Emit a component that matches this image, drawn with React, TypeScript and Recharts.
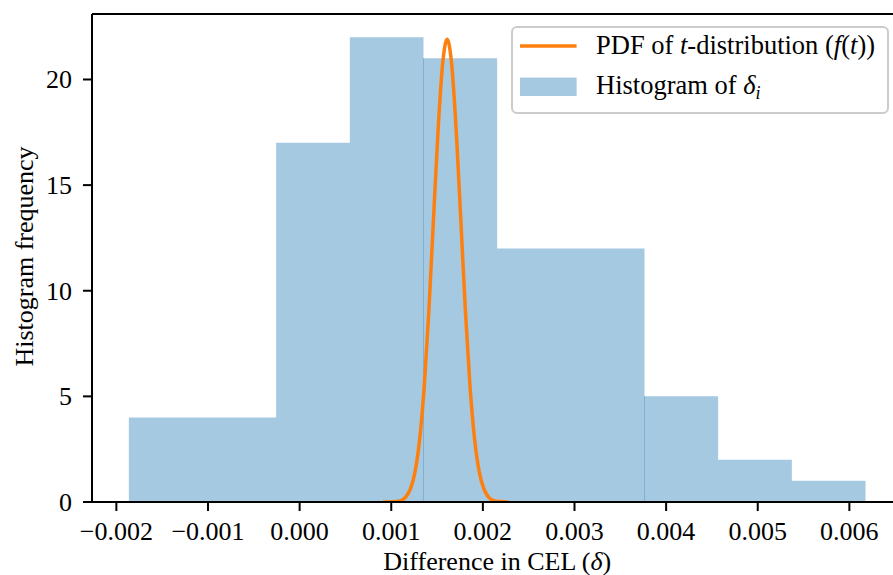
import React from 'react';
import { ComposedChart, Area, Line, XAxis, YAxis, ReferenceLine } from 'recharts';

// histogram of delta_i: bin edges (11) and counts (10)
const binEdges = [
  -0.001864, -0.00106, -0.000256, 0.000548, 0.001352, 0.002156,
  0.00296, 0.003764, 0.004568, 0.005372, 0.006176,
];
const binCounts = [4, 4, 17, 22, 21, 12, 12, 5, 2, 1];

// fitted t-distribution pdf
const pdfX = [
  0.00091, 0.00101, 0.00111, 0.00116, 0.00121, 0.00126, 0.00131, 0.00136,
  0.00141, 0.00146, 0.00151, 0.00156, 0.00161, 0.00166, 0.00171, 0.00176,
  0.00181, 0.00186, 0.00191, 0.00196, 0.00201, 0.00206, 0.00211, 0.00218, 0.00228,
];
const pdfY = [
  0, 0.01, 0.08, 0.24, 0.63, 1.44, 2.96, 5.46, 9.0, 13.3, 17.5, 20.7, 21.9,
  20.7, 17.5, 13.3, 9.0, 5.46, 2.96, 1.44, 0.63, 0.24, 0.08, 0.02, 0,
];

// bin boundaries where the translucent bars overlap and leave a darker seam
const seamBins = [4, 7];

const xTicks = [-0.002, -0.001, 0, 0.001, 0.002, 0.003, 0.004, 0.005, 0.006];
const yTicks = [0, 5, 10, 15, 20];
const yMax = 23.1;

const FONT = '"Liberation Serif", "Times New Roman", serif';
const FS = 26;
const BAR_COLOR = '#a5c9e1';
const LINE_COLOR = '#ff7f0e';

const histData = binEdges.map((x, i) => ({
  x,
  y: i < binCounts.length ? binCounts[i] : binCounts[binCounts.length - 1],
}));
const pdfData = pdfX.map((x, i) => ({ x, y: pdfY[i] }));

const fmtX = (v: number) => (v < 0 ? '\u2212' : '') + Math.abs(v).toFixed(3);

const XTick = (props: any) => {
  const { x, y, payload } = props;
  return (
    <text x={x} y={y + 29} textAnchor="middle" fill="#000" fontSize={FS} fontFamily={FONT}>
      {fmtX(payload.value)}
    </text>
  );
};

const YTick = (props: any) => {
  const { x, y, payload } = props;
  return (
    <text x={x} y={y + 9} textAnchor="end" fill="#000" fontSize={FS} fontFamily={FONT}>
      {payload.value}
    </text>
  );
};

const XLabel = (props: any) => {
  const { x, y, width } = props.viewBox;
  return (
    <text x={x + width / 2} y={y + 68} textAnchor="middle" fill="#000" fontSize={FS} fontFamily={FONT}>
      Difference in CEL (<tspan fontStyle="italic">δ</tspan>)
    </text>
  );
};

const YLabel = (props: any) => {
  const { y, height } = props.viewBox;
  const cx = 33;
  const cy = y + height / 2 - 1.5;
  return (
    <text
      x={cx}
      y={cy}
      transform={`rotate(-90, ${cx}, ${cy})`}
      textAnchor="middle"
      fill="#000"
      fontSize={FS}
      fontFamily={FONT}
    >
      Histogram frequency
    </text>
  );
};

const LegendBox = () => (
  <svg width={378} height={88} style={{ display: 'block' }}>
    <rect x={1} y={1} width={376} height={86} rx={5} fill="#fff" fillOpacity={0.8} stroke="#cccccc" strokeWidth={2} />
    <line x1={9} x2={65.6} y1={20} y2={20} stroke={LINE_COLOR} strokeWidth={3.5} />
    <text x={85} y={28.3} fill="#000" fontSize={26.5} fontFamily={FONT}>
      PDF of <tspan fontStyle="italic">t</tspan>-distribution (<tspan fontStyle="italic">f</tspan>(<tspan fontStyle="italic">t</tspan>))
    </text>
    <rect x={9} y={51.6} width={56.6} height={18.4} fill={BAR_COLOR} />
    <text x={85} y={68.3} fill="#000" fontSize={26.5} fontFamily={FONT}>
      Histogram of <tspan fontStyle="italic">δ</tspan>
      <tspan fontStyle="italic" fontSize={18} dy={5}>i</tspan>
    </text>
  </svg>
);

export default function App() {
  const xDomain = [-0.002266, 0.006581];
  return (
    <div
      style={{
        position: 'absolute',
        left: 0,
        top: 0,
        width: 893,
        height: 575,
        overflow: 'hidden',
        background: '#fff',
        fontFamily: FONT,
      }}
    >
      <ComposedChart width={910} height={575} margin={{ top: 14, right: 7.4, bottom: 0, left: 0 }}>
        <XAxis
          dataKey="x"
          type="number"
          domain={xDomain}
          ticks={xTicks}
          allowDataOverflow
          height={73}
          tickSize={9}
          tickMargin={0}
          tick={<XTick />}
          tickLine={{ stroke: '#000', strokeWidth: 2 }}
          axisLine={{ stroke: '#000', strokeWidth: 2 }}
          label={<XLabel />}
        />
        <YAxis
          type="number"
          domain={[0, yMax]}
          ticks={yTicks}
          allowDataOverflow
          width={92}
          tickSize={9}
          tickMargin={11}
          tick={<YTick />}
          tickLine={{ stroke: '#000', strokeWidth: 2 }}
          axisLine={{ stroke: '#000', strokeWidth: 2 }}
          label={<YLabel />}
        />
        <Area
          data={histData}
          dataKey="y"
          type="stepAfter"
          stroke="none"
          fill={BAR_COLOR}
          fillOpacity={1}
          isAnimationActive={false}
        />
        {seamBins.map((i) => (
          <ReferenceLine
            key={i}
            segment={[
              { x: binEdges[i], y: 0 },
              { x: binEdges[i], y: Math.min(binCounts[i - 1], binCounts[i]) },
            ]}
            stroke="#80b0d4"
            strokeWidth={1}
          />
        ))}
        <ReferenceLine y={yMax} stroke="#000" strokeWidth={2} />
        <Line
          data={pdfData}
          dataKey="y"
          type="monotone"
          stroke={LINE_COLOR}
          strokeWidth={3.5}
          dot={false}
          isAnimationActive={false}
        />
      </ComposedChart>
      <div style={{ position: 'absolute', left: 511, top: 26 }}>
        <LegendBox />
      </div>
    </div>
  );
}
